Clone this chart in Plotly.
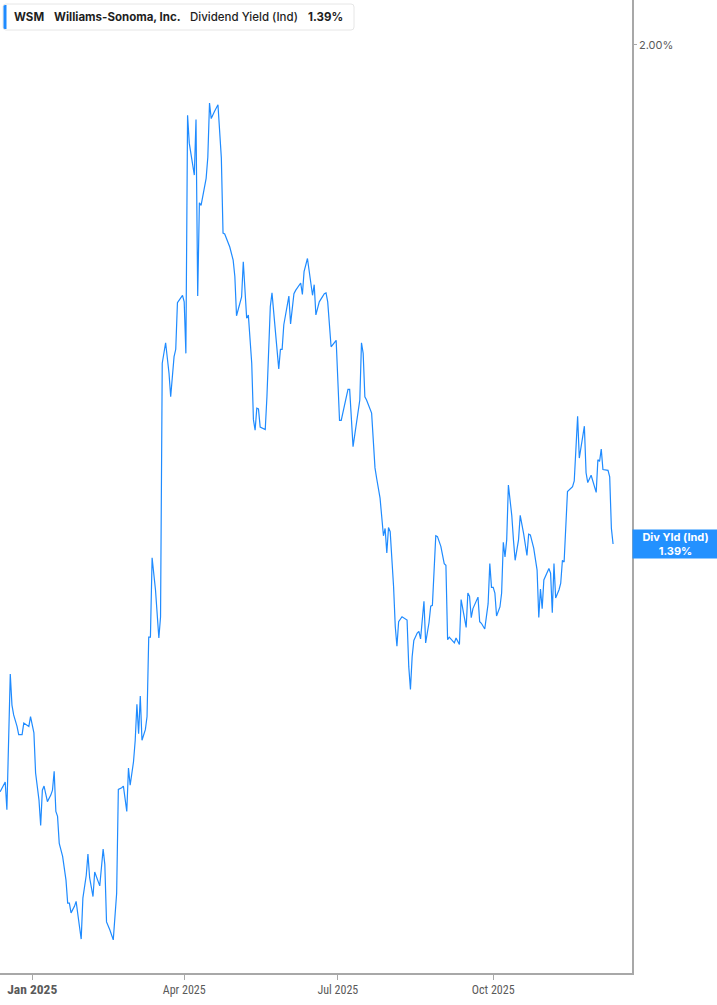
import plotly.graph_objects as go

dates = [
    "2024-12-13", "2024-12-16", "2024-12-17", "2024-12-19", "2024-12-20", "2024-12-21",
    "2024-12-23", "2024-12-24", "2024-12-26", "2024-12-27", "2024-12-30", "2024-12-31",
    "2025-01-02", "2025-01-03", "2025-01-05", "2025-01-06", "2025-01-07", "2025-01-08",
    "2025-01-10", "2025-01-12", "2025-01-13", "2025-01-14", "2025-01-15", "2025-01-16",
    "2025-01-17", "2025-01-19", "2025-01-21", "2025-01-22", "2025-01-23", "2025-01-24",
    "2025-01-26", "2025-01-27", "2025-01-29", "2025-01-30", "2025-01-31", "2025-02-02",
    "2025-02-03", "2025-02-04", "2025-02-06", "2025-02-07", "2025-02-10", "2025-02-11",
    "2025-02-12", "2025-02-13", "2025-02-14", "2025-02-16", "2025-02-18", "2025-02-20",
    "2025-02-21", "2025-02-23", "2025-02-24", "2025-02-26", "2025-02-27", "2025-02-28",
    "2025-03-02", "2025-03-03", "2025-03-04", "2025-03-05", "2025-03-06", "2025-03-07",
    "2025-03-09", "2025-03-10", "2025-03-11", "2025-03-12", "2025-03-13", "2025-03-15",
    "2025-03-17", "2025-03-18", "2025-03-19", "2025-03-21", "2025-03-23", "2025-03-24",
    "2025-03-26", "2025-03-27", "2025-03-28", "2025-03-31", "2025-04-01", "2025-04-02",
    "2025-04-03", "2025-04-04", "2025-04-07", "2025-04-08", "2025-04-09", "2025-04-10",
    "2025-04-11", "2025-04-14", "2025-04-15", "2025-04-16", "2025-04-17", "2025-04-19",
    "2025-04-21", "2025-04-23", "2025-04-24", "2025-04-25", "2025-04-28", "2025-04-30",
    "2025-05-01", "2025-05-02", "2025-05-05", "2025-05-06", "2025-05-08", "2025-05-09",
    "2025-05-11", "2025-05-12", "2025-05-13", "2025-05-14", "2025-05-15", "2025-05-16",
    "2025-05-19", "2025-05-20", "2025-05-22", "2025-05-23", "2025-05-25", "2025-05-27",
    "2025-05-28", "2025-05-29", "2025-05-30", "2025-06-02", "2025-06-03", "2025-06-05",
    "2025-06-06", "2025-06-09", "2025-06-10", "2025-06-11", "2025-06-13", "2025-06-16",
    "2025-06-17", "2025-06-18", "2025-06-20", "2025-06-23", "2025-06-24", "2025-06-25",
    "2025-06-27", "2025-06-30", "2025-07-02", "2025-07-03", "2025-07-07", "2025-07-08",
    "2025-07-10", "2025-07-14", "2025-07-15", "2025-07-16", "2025-07-17", "2025-07-18",
    "2025-07-21", "2025-07-23", "2025-07-24", "2025-07-26", "2025-07-28", "2025-07-29",
    "2025-07-30", "2025-07-31", "2025-08-01", "2025-08-03", "2025-08-04", "2025-08-05",
    "2025-08-06", "2025-08-08", "2025-08-11", "2025-08-12", "2025-08-13", "2025-08-14",
    "2025-08-15", "2025-08-17", "2025-08-18", "2025-08-19", "2025-08-21", "2025-08-22",
    "2025-08-24", "2025-08-25", "2025-08-26", "2025-08-28", "2025-08-29", "2025-08-31",
    "2025-09-02", "2025-09-03", "2025-09-04", "2025-09-05", "2025-09-08", "2025-09-09",
    "2025-09-11", "2025-09-12", "2025-09-15", "2025-09-16", "2025-09-17", "2025-09-18",
    "2025-09-19", "2025-09-22", "2025-09-23", "2025-09-24", "2025-09-26", "2025-09-28",
    "2025-09-29", "2025-09-30", "2025-10-01", "2025-10-02", "2025-10-03", "2025-10-05",
    "2025-10-06", "2025-10-07", "2025-10-08", "2025-10-09", "2025-10-10", "2025-10-12",
    "2025-10-13", "2025-10-14", "2025-10-16", "2025-10-17", "2025-10-19", "2025-10-21",
    "2025-10-22", "2025-10-23", "2025-10-25", "2025-10-27", "2025-10-28", "2025-10-29",
    "2025-10-30", "2025-10-31", "2025-11-03", "2025-11-04", "2025-11-05", "2025-11-06",
    "2025-11-07", "2025-11-09", "2025-11-10", "2025-11-11", "2025-11-12", "2025-11-14",
    "2025-11-17", "2025-11-18", "2025-11-20", "2025-11-21", "2025-11-24", "2025-11-25",
    "2025-11-26", "2025-11-28", "2025-12-01", "2025-12-02", "2025-12-03", "2025-12-04",
    "2025-12-05", "2025-12-08", "2025-12-09", "2025-12-10", "2025-12-11",
]

yield_pct = [
    1.087, 1.099, 1.065, 1.231, 1.193, 1.181,
    1.167, 1.157, 1.157, 1.171, 1.167, 1.179,
    1.159, 1.110, 1.077, 1.046, 1.089, 1.094,
    1.075, 1.083, 1.089, 1.112, 1.063, 1.057,
    1.024, 1.008, 0.979, 0.951, 0.951, 0.939,
    0.947, 0.953, 0.922, 0.907, 0.957, 0.985,
    1.011, 0.982, 0.959, 0.989, 0.972, 0.996,
    1.017, 0.998, 0.928, 0.918, 0.906, 0.963,
    1.090, 1.092, 1.094, 1.063, 1.116, 1.095,
    1.124, 1.150, 1.194, 1.158, 1.204, 1.150,
    1.163, 1.179, 1.276, 1.276, 1.373, 1.334,
    1.275, 1.301, 1.611, 1.636, 1.599, 1.570,
    1.619, 1.628, 1.685, 1.694, 1.686, 1.623,
    1.914, 1.880, 1.841, 1.909, 1.693, 1.807,
    1.804, 1.837, 1.863, 1.929, 1.910, 1.919,
    1.927, 1.862, 1.770, 1.769, 1.753, 1.737,
    1.717, 1.669, 1.692, 1.735, 1.666, 1.670,
    1.611, 1.542, 1.529, 1.556, 1.555, 1.533,
    1.530, 1.570, 1.680, 1.697, 1.652, 1.604,
    1.628, 1.628, 1.658, 1.693, 1.659, 1.696,
    1.700, 1.709, 1.695, 1.723, 1.739, 1.694,
    1.707, 1.670, 1.686, 1.696, 1.697, 1.686,
    1.631, 1.639, 1.541, 1.541, 1.579, 1.579,
    1.509, 1.566, 1.636, 1.623, 1.570, 1.566,
    1.550, 1.483, 1.470, 1.446, 1.400, 1.409,
    1.379, 1.410, 1.405, 1.338, 1.289, 1.265,
    1.295, 1.301, 1.297, 1.240, 1.212, 1.252,
    1.272, 1.281, 1.283, 1.274, 1.320, 1.269,
    1.294, 1.314, 1.315, 1.400, 1.399, 1.387,
    1.366, 1.364, 1.273, 1.276, 1.269, 1.275,
    1.267, 1.322, 1.288, 1.330, 1.326, 1.300,
    1.311, 1.325, 1.295, 1.293, 1.286, 1.317,
    1.366, 1.337, 1.337, 1.330, 1.302, 1.313,
    1.330, 1.392, 1.374, 1.395, 1.462, 1.425,
    1.395, 1.370, 1.395, 1.425, 1.403, 1.376,
    1.402, 1.401, 1.385, 1.358, 1.300, 1.335,
    1.311, 1.346, 1.360, 1.354, 1.306, 1.366,
    1.324, 1.334, 1.342, 1.370, 1.368, 1.454,
    1.460, 1.467, 1.546, 1.495, 1.534, 1.477,
    1.465, 1.474, 1.453, 1.493, 1.491, 1.506,
    1.481, 1.480, 1.472, 1.409, 1.390,
]

tick_dates = ["2025-01-01", "2025-04-01", "2025-07-01", "2025-10-01"]
tick_labels = ["Jan 2025", "Apr 2025", "Jul 2025", "Oct 2025"]
y_ticks = [2.0]
y_tick_labels = ["2.00%"]

ticker = "WSM"
company = "Williams-Sonoma, Inc."
metric = "Dividend Yield (Ind)"
last_label = "Div Yld (Ind)"
last_value = yield_pct[-1]

LINE = "#1f8bff"
AXIS = "#a8a8a8"
TXT = "#5a5a5a"
NARROW = "Liberation Sans Narrow, Roboto Condensed, Arial Narrow, Roboto, sans-serif"
HEAD = "Inter, Roboto, sans-serif"

PW, PH = 632, 973  # plot area size in px

ticktext = []
for i, t in enumerate(tick_labels):
    if i == 0:
        ticktext.append("<span style='font-size:13.5px;font-weight:bold'>%s</span>" % t)
    else:
        ticktext.append(t)

fig = go.Figure()
fig.add_trace(go.Scatter(
    x=dates, y=yield_pct, mode="lines",
    line=dict(color=LINE, width=1.2),
    hoverinfo="skip", showlegend=False,
))

fig.update_layout(
    width=717, height=1005,
    margin=dict(l=0, r=85, t=0, b=32),
    paper_bgcolor="white", plot_bgcolor="white",
    showlegend=False,
    xaxis=dict(
        type="date",
        range=["2024-12-12 22:00", "2025-12-22 05:00"],
        tickvals=tick_dates, ticktext=ticktext,
        showgrid=False, zeroline=False,
        showline=True, linecolor=AXIS, linewidth=2,
        ticks="outside", ticklen=5, tickcolor=AXIS, tickwidth=1,
        tickfont=dict(family=NARROW, size=12, color=TXT),
        fixedrange=True,
    ),
    yaxis=dict(
        side="right",
        range=[0.8655, 2.055],
        tickvals=y_ticks, ticktext=y_tick_labels,
        showgrid=False, zeroline=False,
        showline=True, linecolor=AXIS, linewidth=1.5,
        ticks="outside", ticklen=3, tickcolor=AXIS,
        tickfont=dict(family="Inter, Roboto, sans-serif", size=11, color=TXT),
        fixedrange=True,
    ),
)

# header box (rounded) and blue accent bar, sized in pixels from the top-left corner
fig.add_shape(
    type="path", xref="paper", yref="paper", xsizemode="pixel", ysizemode="pixel",
    xanchor=0, yanchor=1, layer="above",
    path="M 6,-4 L 351,-4 Q 354,-4 354,-7 L 354,-27 Q 354,-30 351,-30 "
         "L 6,-30 Q 3,-30 3,-27 L 3,-7 Q 3,-4 6,-4 Z",
    fillcolor="white", line=dict(color="#e6e6e6", width=1),
)
fig.add_shape(
    type="path", xref="paper", yref="paper", xsizemode="pixel", ysizemode="pixel",
    xanchor=0, yanchor=1, layer="above",
    path="M 6.5,-5 L 6.5,-29 L 5,-29 Q 3.5,-29 3.5,-27.5 L 3.5,-6.5 Q 3.5,-5 5,-5 Z",
    fillcolor=LINE, line=dict(width=0),
)

header_parts = [
    (ticker, 13, 700),
    (company, 53, 700),
    (metric, 189, 500),
    ("%.2f%%" % last_value, 307, 700),
]
for txt, px, wt in header_parts:
    fig.add_annotation(
        xref="paper", yref="paper", x=px / PW, y=1 - 17 / PH,
        xanchor="left", yanchor="middle", showarrow=False,
        text=txt, borderpad=0,
        font=dict(family=HEAD, size=11.5, color="#1e1e1e", weight=wt),
    )

# last value label on the right axis
fig.add_annotation(
    xref="paper", yref="y", x=1, y=last_value,
    xanchor="left", yanchor="middle", showarrow=False, align="center",
    text="<b>%s</b><br><b>%.2f%%</b>" % (last_label, last_value),
    font=dict(family=HEAD, size=11, color="white"),
    bgcolor="#2391ff", borderpad=2, width=81, height=24,
)

fig.write_html(
    "out.html",
    config={"displayModeBar": False},
    post_script="document.body.style.margin='0';document.body.style.padding='0';",
)
